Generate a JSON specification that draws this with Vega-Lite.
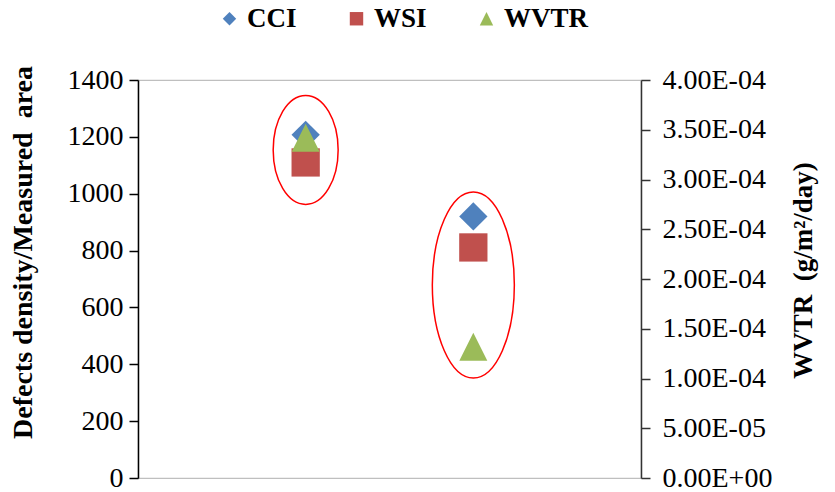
{
  "$schema": "https://vega.github.io/schema/vega-lite/v6.json",
  "width": 503,
  "height": 398,
  "autosize": {"type": "none"},
  "padding": {"left": 138, "top": 80, "right": 194, "bottom": 14},
  "background": "white",
  "config": {
    "view": {"stroke": "#BFBFBF", "strokeWidth": 1.2},
    "axis": {
      "grid": false,
      "labelFont": "Liberation Serif",
      "labelFontSize": 28,
      "labelColor": "#000000",
      "titleFont": "Liberation Serif",
      "titleFontSize": 28,
      "titleFontWeight": "bold",
      "titleColor": "#000000",
      "domainColor": "#000000",
      "tickColor": "#000000",
      "domainWidth": 1.5,
      "tickWidth": 1.5,
      "tickSize": 9
    }
  },
  "datasets": {
    "points": [
      {"group": "A", "series": "CCI", "value": 1207},
      {"group": "A", "series": "WSI", "value": 1110},
      {"group": "A", "series": "WVTR", "value": 0.000342},
      {"group": "B", "series": "CCI", "value": 920},
      {"group": "B", "series": "WSI", "value": 811},
      {"group": "B", "series": "WVTR", "value": 0.000132}
    ],
    "highlights": [
      {"group": "A", "value": 1154},
      {"group": "B", "value": 679}
    ]
  },
  "encoding": {
    "x": {
      "field": "group",
      "type": "nominal",
      "scale": {"type": "point", "domain": ["A", "B"], "padding": 1},
      "axis": null
    }
  },
  "layer": [
    {
      "encoding": {
        "y": {
          "field": "value",
          "type": "quantitative",
          "scale": {"domain": [0, 1400], "nice": false},
          "axis": {
            "orient": "left",
            "values": [0, 200, 400, 600, 800, 1000, 1200, 1400],
            "format": "d",
            "labelFont": "Liberation Serif",
            "labelFontSize": 28,
            "title": "Defects density/Measured\u00a0 area",
            "labelPadding": 6,
            "titleAngle": -90,
            "titleX": -115,
            "titleY": 172,
            "titleBaseline": "middle",
            "titleAlign": "center"
          }
        }
      },
      "layer": [
        {
          "data": {"name": "points"},
          "transform": [{"filter": "datum.series !== 'WVTR'"}],
          "mark": {"type": "point", "filled": true, "opacity": 1, "size": 800, "strokeWidth": 0},
          "encoding": {
            "color": {
              "field": "series",
              "type": "nominal",
              "scale": {"domain": ["CCI", "WSI", "WVTR"], "range": ["#4F81BD", "#C0504D", "#9BBB59"]},
              "legend": {
                "orient": "none",
                "legendX": 78,
                "legendY": -75,
                "direction": "horizontal",
                "title": null,
                "labelFont": "Liberation Serif",
                "labelFontSize": 27,
                "labelFontWeight": "bold",
                "labelColor": "#000000",
                "symbolSize": 180,
                "symbolStrokeWidth": 0,
                "symbolOpacity": 1,
                "columnPadding": 46,
                "labelOffset": 4,
                "padding": 0
              }
            },
            "shape": {
              "field": "series",
              "type": "nominal",
              "scale": {"domain": ["CCI", "WSI", "WVTR"], "range": ["diamond", "square", "M0,-1L1,1L-1,1Z"]}
            }
          }
        },
        {
          "data": {"name": "highlights"},
          "transform": [{"filter": "datum.group === 'A'"}],
          "mark": {
            "type": "point",
            "filled": false,
            "color": "#FF0000",
            "strokeWidth": 1.5,
            "opacity": 1,
            "size": 11881,
            "shape": "M0,-1C0.329,-1,0.596,-0.552,0.596,0C0.596,0.552,0.329,1,0,1C-0.329,1,-0.596,0.552,-0.596,0C-0.596,-0.552,-0.329,-1,0,-1Z"
          },
          "encoding": {}
        },
        {
          "data": {"name": "highlights"},
          "transform": [{"filter": "datum.group === 'B'"}],
          "mark": {
            "type": "point",
            "filled": false,
            "color": "#FF0000",
            "strokeWidth": 1.5,
            "opacity": 1,
            "size": 34596,
            "shape": "M0,-1C0.244,-1,0.441,-0.552,0.441,0C0.441,0.552,0.244,1,0,1C-0.244,1,-0.441,0.552,-0.441,0C-0.441,-0.552,-0.244,-1,0,-1Z"
          },
          "encoding": {}
        }
      ]
    },
    {
      "data": {"name": "points"},
      "transform": [{"filter": "datum.series === 'WVTR'"}],
      "mark": {"type": "point", "filled": true, "opacity": 1, "size": 784, "strokeWidth": 0},
      "encoding": {
        "y": {
          "field": "value",
          "type": "quantitative",
          "scale": {"domain": [0, 0.0004], "nice": false},
          "axis": {
            "orient": "right",
            "values": [0, 0.00005, 0.0001, 0.00015, 0.0002, 0.00025, 0.0003, 0.00035, 0.0004],
            "labelExpr": "replace(replace(format(datum.value, '.2e'), 'e-', 'E-0'), 'e+', 'E+0')",
            "labelFont": "Liberation Serif",
            "labelFontSize": 28,
            "title": "WVTR\u00a0 (g/m²/day)",
            "titleFontSize": 27,
            "labelPadding": 12,
            "domainColor": "#333333",
            "tickColor": "#333333",
            "titleAngle": -90,
            "titleX": 162,
            "titleY": 190,
            "titleBaseline": "middle",
            "titleAlign": "center"
          }
        },
        "color": {
          "field": "series",
          "type": "nominal",
          "scale": {"domain": ["CCI", "WSI", "WVTR"], "range": ["#4F81BD", "#C0504D", "#9BBB59"]}
        },
        "shape": {
          "field": "series",
          "type": "nominal",
          "scale": {"domain": ["CCI", "WSI", "WVTR"], "range": ["diamond", "square", "M0,-1L1,1L-1,1Z"]}
        }
      }
    }
  ],
  "resolve": {"scale": {"y": "independent"}}
}
